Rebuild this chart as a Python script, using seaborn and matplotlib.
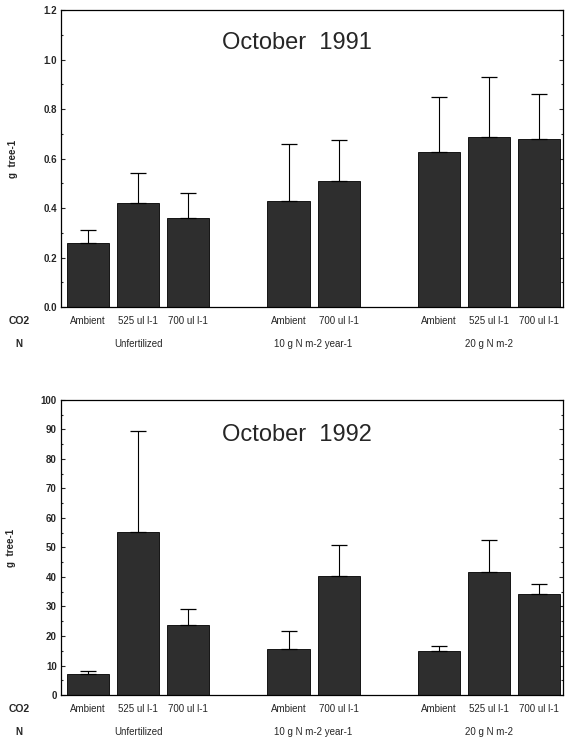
import matplotlib
matplotlib.use("Agg")
import matplotlib.pyplot as plt
import seaborn as sns
import pandas as pd
import numpy as np
from matplotlib.ticker import MultipleLocator

sns.set_theme(style="ticks")
plt.rcParams['font.family'] = ['Liberation Sans', 'DejaVu Sans']

positions = [0, 1, 2, 4, 5, 7, 8, 9]
co2_labels = ["Ambient", "525 ul l-1", "700 ul l-1", "Ambient", "700 ul l-1",
              "Ambient", "525 ul l-1", "700 ul l-1"]
n_groups = ["Unfertilized", "10 g N m-2 year-1", "20 g N m-2"]
n_group_centers = [1, 4.5, 8]

vals_1991 = [0.26, 0.42, 0.36, 0.43, 0.51, 0.625, 0.685, 0.68]
errtop_1991 = [0.31, 0.54, 0.46, 0.66, 0.675, 0.85, 0.93, 0.86]

vals_1992 = [7.0, 55.3, 23.8, 15.7, 40.2, 14.8, 41.8, 34.2]
errtop_1992 = [8.2, 89.5, 29.3, 21.6, 50.7, 16.7, 52.4, 37.6]

fig = plt.figure(figsize=(5.7, 7.4), dpi=100)
ax1 = fig.add_axes([0.107, 0.585, 0.881, 0.4015])
ax2 = fig.add_axes([0.107, 0.0608, 0.881, 0.3987])

def draw(ax, vals, errtop, title, ymax, major, minor, fmt, ty):
    df = pd.DataFrame({"pos": positions, "val": vals})
    sns.barplot(data=df, x="pos", y="val", native_scale=True, width=0.84,
                color="#2e2e2e", saturation=1, edgecolor="black", linewidth=0.6,
                ax=ax, errorbar=None)
    up = np.array(errtop) - np.array(vals)
    ax.errorbar(positions, vals, yerr=[np.zeros(len(vals)), up], fmt="none",
                ecolor="black", elinewidth=0.8, capsize=5.5, capthick=0.9)
    ax.set_xlim(-0.54, 9.48)
    ax.set_ylim(0, ymax)
    ax.yaxis.set_major_locator(MultipleLocator(major))
    ax.yaxis.set_minor_locator(MultipleLocator(minor))
    ax.yaxis.set_major_formatter(matplotlib.ticker.FormatStrFormatter(fmt))
    ax.tick_params(axis="y", which="both", direction="in", right=True, left=True,
                   labelsize=7, length=3, width=0.8, pad=3)
    ax.tick_params(axis="y", which="minor", length=1.5)
    ax.set_xticks([])
    ax.set_xlabel("")
    ax.set_ylabel("g  tree-1", fontsize=7, fontweight="bold", labelpad=18)
    for s in ax.spines.values():
        s.set_linewidth(0.9)
        s.set_color("black")
    for lab in ax.get_yticklabels():
        lab.set_fontweight("bold")
    ax.text(0.47, ty, title, transform=ax.transAxes, ha="center", va="center",
            fontsize=17)
    for p, lab in zip(positions, co2_labels):
        ax.annotate(lab, xy=(p, 0), xycoords=("data", "axes fraction"),
                    xytext=(0, -10), textcoords="offset points",
                    ha="center", va="center", fontsize=7)
    for c, lab in zip(n_group_centers, n_groups):
        ax.annotate(lab, xy=(c, 0), xycoords=("data", "axes fraction"),
                    xytext=(0, -26.5), textcoords="offset points",
                    ha="center", va="center", fontsize=7)
    ax.annotate("CO2", xy=(0, 0), xycoords="axes fraction",
                xytext=(-30, -10), textcoords="offset points",
                ha="center", va="center", fontsize=7.5, fontweight="bold")
    ax.annotate("N", xy=(0, 0), xycoords="axes fraction",
                xytext=(-30, -26.5), textcoords="offset points",
                ha="center", va="center", fontsize=7, fontweight="bold")

draw(ax1, vals_1991, errtop_1991, "October  1991", 1.2, 0.2, 0.1, "%.1f", 0.889)
draw(ax2, vals_1992, errtop_1992, "October  1992", 100, 10, 5, "%d", 0.881)

fig.savefig("out.png", dpi=100)
